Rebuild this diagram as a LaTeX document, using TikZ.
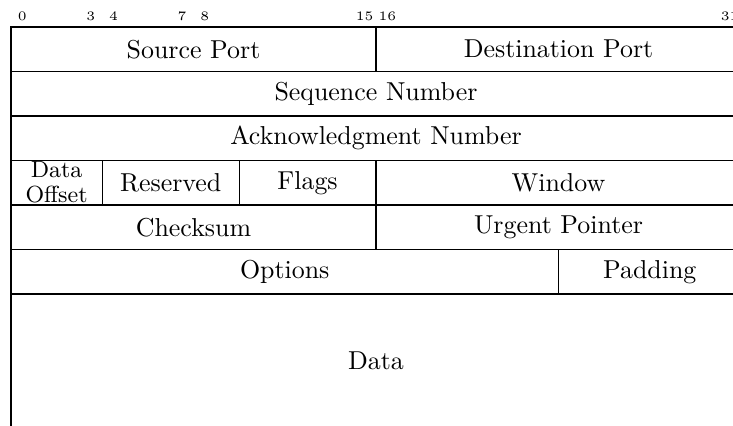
\documentclass[tikz,border=0pt]{standalone}
\begin{document}
\def\u{0.386pt}
\begin{tikzpicture}[x=0.386pt,y=-0.386pt,
  field/.style={draw, line width=0.45pt, inner sep=0pt, minimum height=44.5*\u, anchor=center},
  bitnum/.style={font=\tiny, inner sep=0pt, anchor=base}]
\useasboundingbox (0,0) rectangle (733,425);
\clip (0,0) rectangle (733,425);
% bit numbers
\foreach \b in {0,3,4,7,8,15,16,31} {
  \node[bitnum] (b\b) at ({11+(\b+0.5)*22.8125},20) {\b};
}
% row 0
\node[field, minimum width=365*\u] (sp) at (193.5,49.25) {Source Port};
\node[field, minimum width=365*\u] (dp) at (558.5,49.25) {Destination Port};
% row 1
\node[field, minimum width=730*\u] (seq) at (376,93.75) {Sequence Number};
% row 2
\node[field, minimum width=730*\u] (ack) at (376,138.25) {Acknowledgment Number};
% row 3
\node[field, minimum width=91.25*\u] (off) at (56.625,182.75) {};
\node[inner sep=0pt, anchor=base, align=center, font=\fontsize{9}{9.8}\selectfont] (offtxt) at (56.625,202.5) {Data\\Offset};
\node[field, minimum width=136.875*\u] (res) at (170.6875,182.75) {Reserved};
\node[field, minimum width=136.875*\u] (flg) at (307.5625,182.75) {Flags};
\node[field, minimum width=365*\u] (win) at (558.5,182.75) {Window};
% row 4
\node[field, minimum width=365*\u] (chk) at (193.5,227.25) {Checksum};
\node[field, minimum width=365*\u] (urg) at (558.5,227.25) {Urgent Pointer};
% row 5
\node[field, minimum width=547.5*\u] (opt) at (284.75,271.75) {Options};
\node[field, minimum width=182.5*\u] (pad) at (649.75,271.75) {Padding};
% data
\node[field, minimum width=730*\u, minimum height=133.5*\u] (data) at (376,360.75) {Data};
\end{tikzpicture}
\end{document}
